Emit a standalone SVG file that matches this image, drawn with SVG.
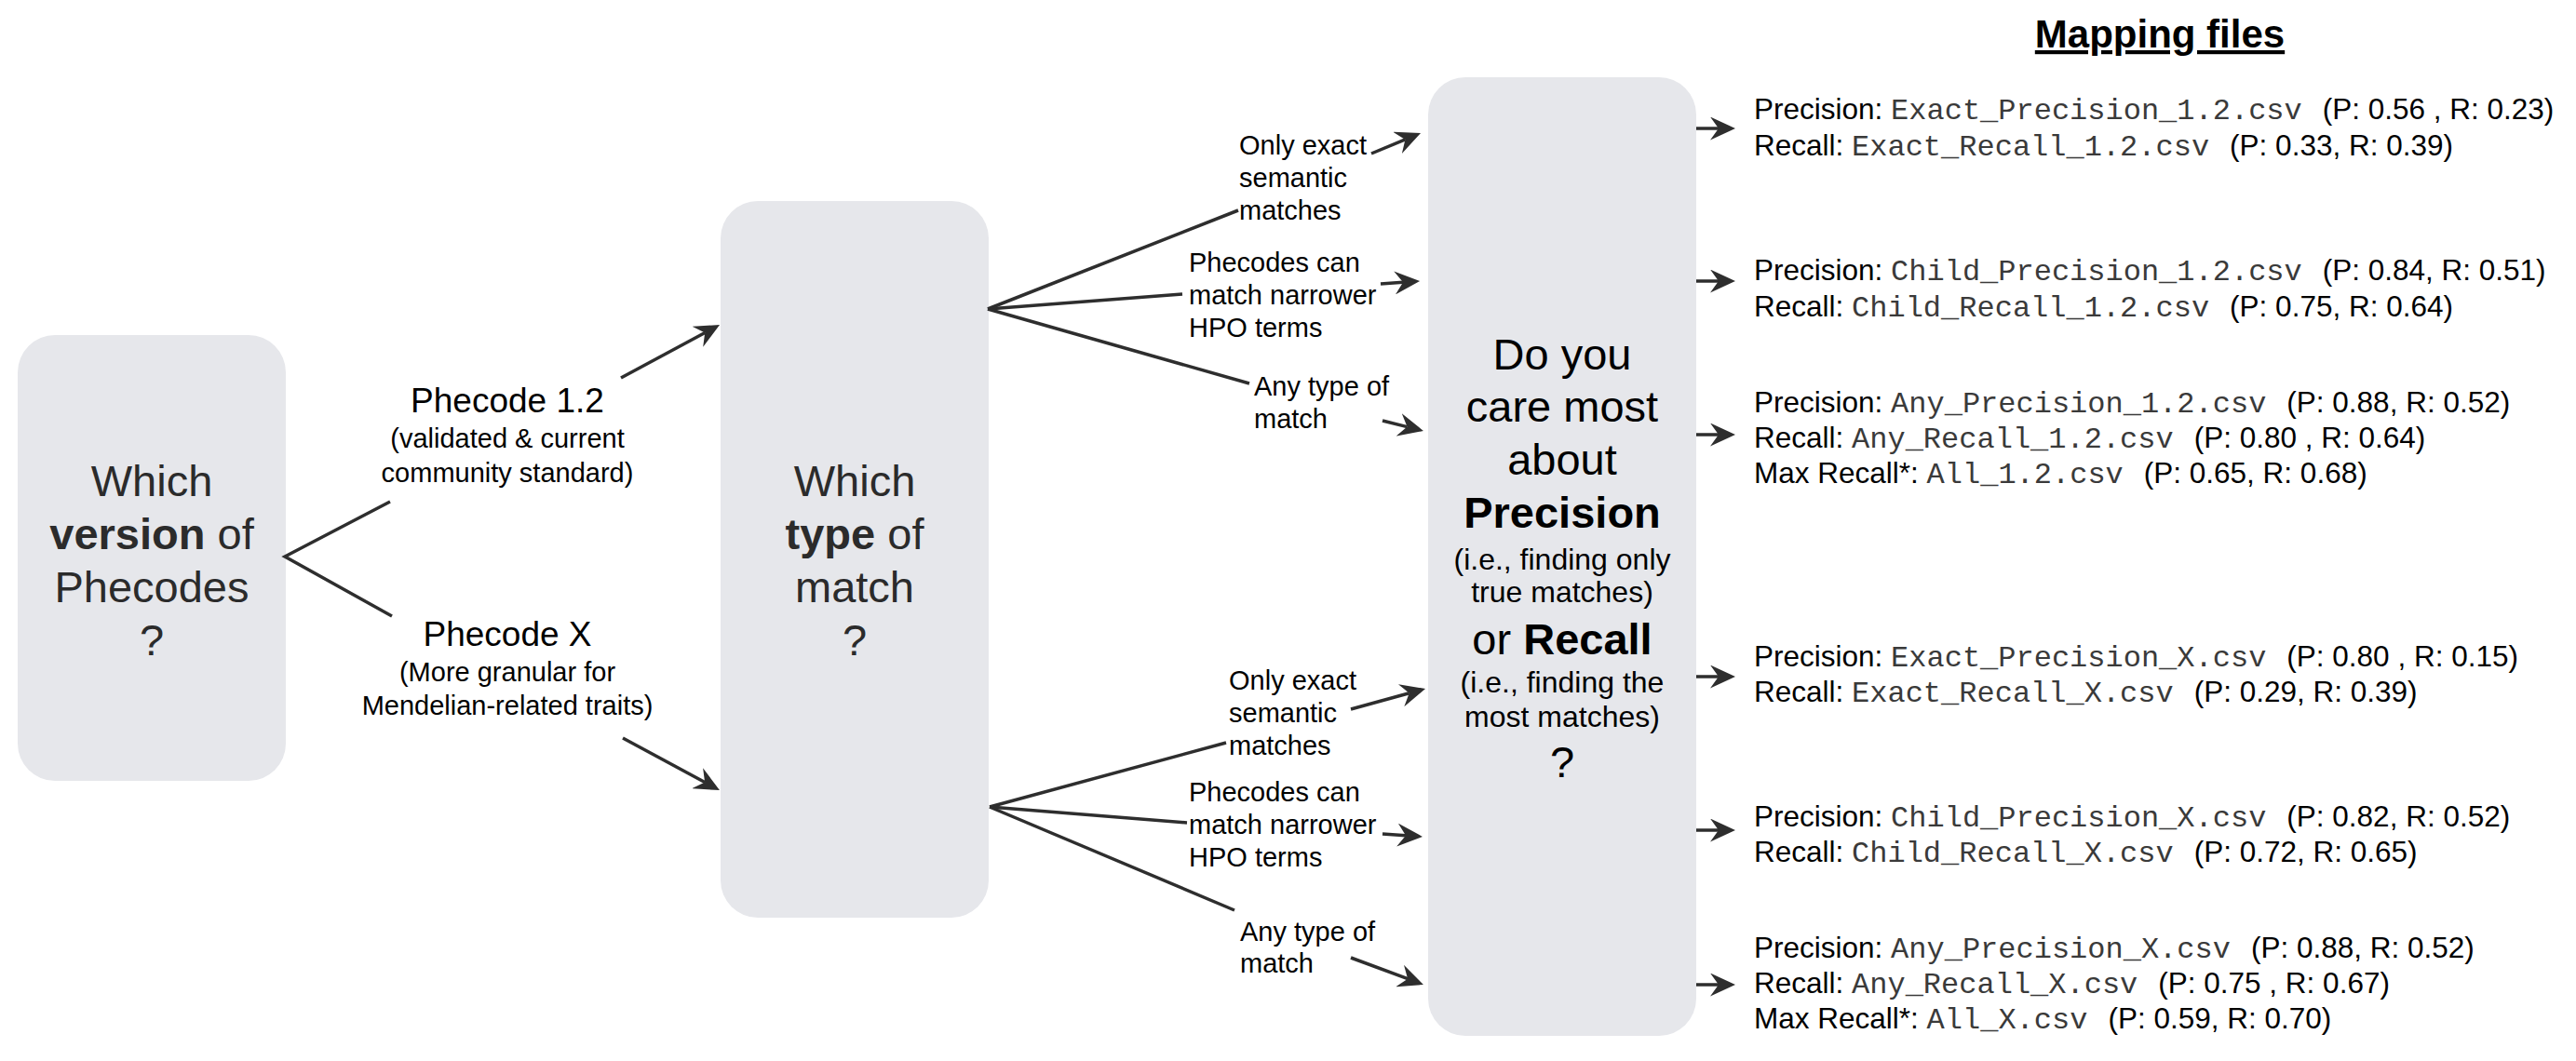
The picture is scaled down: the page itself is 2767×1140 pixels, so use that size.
<svg xmlns="http://www.w3.org/2000/svg" width="2767" height="1140" viewBox="0 0 2767 1140">
<style>
.box{fill:#e6e7eb;}
.q{font-family:"Liberation Sans",Arial,sans-serif;font-size:47px;text-anchor:middle;fill:#2b2b2b;}
.q3{font-family:"Liberation Sans",Arial,sans-serif;font-size:47px;text-anchor:middle;fill:#000;}
.qs{font-family:"Liberation Sans",Arial,sans-serif;font-size:32px;text-anchor:middle;fill:#000;}
.b{font-weight:bold;}
.ph{font-family:"Liberation Sans",Arial,sans-serif;font-size:37px;text-anchor:middle;fill:#000;}
.phs{font-family:"Liberation Sans",Arial,sans-serif;font-size:29px;text-anchor:middle;fill:#000;}
.lab{font-family:"Liberation Sans",Arial,sans-serif;font-size:29px;fill:#000;}
.rt{font-family:"Liberation Sans",Arial,sans-serif;font-size:31.5px;fill:#000;}
.mono{font-family:"Liberation Mono","Courier New",monospace;font-size:32px;fill:#3a3a3a;}
.title{font-family:"Liberation Sans",Arial,sans-serif;font-size:42px;font-weight:bold;text-anchor:middle;fill:#000;text-decoration:underline;}
.ln{fill:none;stroke:#2e2e2e;stroke-width:3.5;}
.ar{fill:none;stroke:#2e2e2e;stroke-width:3.5;marker-end:url(#ah);}
</style>
<defs>
<marker id="ah" markerUnits="userSpaceOnUse" viewBox="0 0 27 25" refX="9" refY="12.5" markerWidth="27" markerHeight="25" orient="auto">
<path d="M0,0 L27,12.5 L0,25 L9,12.5 Z" fill="#2e2e2e"/>
</marker>
</defs>
<rect width="2767" height="1140" fill="#fff"/>

<g id="node-version">
<rect class="box" x="19" y="360" width="288" height="479" rx="40"/>
<text class="q" x="163" y="533">Which</text>
<text class="q" x="163" y="590"><tspan class="b">version</tspan> of</text>
<text class="q" x="163" y="647">Phecodes</text>
<text class="q" x="163" y="704">?</text>
</g>

<g id="node-phecode12">
<text class="ph" x="545" y="443">Phecode 1.2</text>
<text class="phs" x="545" y="481">(validated &amp; current</text>
<text class="phs" x="545" y="518">community standard)</text>
</g>

<g id="node-phecodeX">
<text class="ph" x="545" y="694">Phecode X</text>
<text class="phs" x="545" y="732">(More granular for</text>
<text class="phs" x="545" y="768">Mendelian-related traits)</text>
</g>

<g id="node-type">
<rect class="box" x="774" y="216" width="288" height="770" rx="40"/>
<text class="q" x="918" y="533">Which</text>
<text class="q" x="918" y="590"><tspan class="b">type</tspan> of</text>
<text class="q" x="918" y="647">match</text>
<text class="q" x="918" y="704">?</text>
</g>

<g id="labels-12">
<text class="lab" x="1331" y="166">Only exact</text>
<text class="lab" x="1331" y="201">semantic</text>
<text class="lab" x="1331" y="236">matches</text>
<text class="lab" x="1277" y="292">Phecodes can</text>
<text class="lab" x="1277" y="327">match narrower</text>
<text class="lab" x="1277" y="362">HPO terms</text>
<text class="lab" x="1347" y="425">Any type of</text>
<text class="lab" x="1347" y="460">match</text>
</g>

<g id="labels-X">
<text class="lab" x="1320" y="741">Only exact</text>
<text class="lab" x="1320" y="776">semantic</text>
<text class="lab" x="1320" y="811">matches</text>
<text class="lab" x="1277" y="861">Phecodes can</text>
<text class="lab" x="1277" y="896">match narrower</text>
<text class="lab" x="1277" y="931">HPO terms</text>
<text class="lab" x="1332" y="1011">Any type of</text>
<text class="lab" x="1332" y="1045">match</text>
</g>

<g id="node-precision-recall">
<rect class="box" x="1534" y="83" width="288" height="1030" rx="40"/>
<text class="q3" x="1678" y="397">Do you</text>
<text class="q3" x="1678" y="453">care most</text>
<text class="q3" x="1678" y="510">about</text>
<text class="q3 b" x="1678" y="567">Precision</text>
<text class="qs" x="1678" y="612">(i.e., finding only</text>
<text class="qs" x="1678" y="647">true matches)</text>
<text class="q3" x="1678" y="703">or <tspan class="b">Recall</tspan></text>
<text class="qs" x="1678" y="744">(i.e., finding the</text>
<text class="qs" x="1678" y="781">most matches)</text>
<text class="q3" x="1678" y="835">?</text>
</g>

<g id="node-title">
<text class="title" x="2320" y="51">Mapping files</text>
</g>

<g id="node-files-exact-12">
<text class="rt" x="1884" y="128">Precision: <tspan class="mono">Exact_Precision_1.2.csv</tspan><tspan dx="22">(P: 0.56 , R: 0.23)</tspan></text>
<text class="rt" x="1884" y="167">Recall: <tspan class="mono">Exact_Recall_1.2.csv</tspan><tspan dx="22">(P: 0.33, R: 0.39)</tspan></text>
</g>
<g id="node-files-child-12">
<text class="rt" x="1884" y="301">Precision: <tspan class="mono">Child_Precision_1.2.csv</tspan><tspan dx="22">(P: 0.84, R: 0.51)</tspan></text>
<text class="rt" x="1884" y="340">Recall: <tspan class="mono">Child_Recall_1.2.csv</tspan><tspan dx="22">(P: 0.75, R: 0.64)</tspan></text>
</g>
<g id="node-files-any-12">
<text class="rt" x="1884" y="443">Precision: <tspan class="mono">Any_Precision_1.2.csv</tspan><tspan dx="22">(P: 0.88, R: 0.52)</tspan></text>
<text class="rt" x="1884" y="481">Recall: <tspan class="mono">Any_Recall_1.2.csv</tspan><tspan dx="22">(P: 0.80 , R: 0.64)</tspan></text>
<text class="rt" x="1884" y="519">Max Recall*: <tspan class="mono">All_1.2.csv</tspan><tspan dx="22">(P: 0.65, R: 0.68)</tspan></text>
</g>
<g id="node-files-exact-X">
<text class="rt" x="1884" y="716">Precision: <tspan class="mono">Exact_Precision_X.csv</tspan><tspan dx="22">(P: 0.80 , R: 0.15)</tspan></text>
<text class="rt" x="1884" y="754">Recall: <tspan class="mono">Exact_Recall_X.csv</tspan><tspan dx="22">(P: 0.29, R: 0.39)</tspan></text>
</g>
<g id="node-files-child-X">
<text class="rt" x="1884" y="888">Precision: <tspan class="mono">Child_Precision_X.csv</tspan><tspan dx="22">(P: 0.82, R: 0.52)</tspan></text>
<text class="rt" x="1884" y="926">Recall: <tspan class="mono">Child_Recall_X.csv</tspan><tspan dx="22">(P: 0.72, R: 0.65)</tspan></text>
</g>
<g id="node-files-any-X">
<text class="rt" x="1884" y="1029">Precision: <tspan class="mono">Any_Precision_X.csv</tspan><tspan dx="22">(P: 0.88, R: 0.52)</tspan></text>
<text class="rt" x="1884" y="1067">Recall: <tspan class="mono">Any_Recall_X.csv</tspan><tspan dx="22">(P: 0.75 , R: 0.67)</tspan></text>
<text class="rt" x="1884" y="1105">Max Recall*: <tspan class="mono">All_X.csv</tspan><tspan dx="22">(P: 0.59, R: 0.70)</tspan></text>
</g>

<g id="connectors">
<polyline class="ln" points="419,539 306,598 421,662"/>
<line class="ar" x1="667" y1="406" x2="757.2" y2="357.5"/>
<line class="ar" x1="669" y1="793" x2="757.1" y2="840.5"/>

<line class="ln" x1="1061" y1="332" x2="1330" y2="226"/>
<line class="ln" x1="1061" y1="332" x2="1270" y2="316"/>
<line class="ln" x1="1061" y1="332" x2="1342" y2="412"/>
<line class="ln" x1="1063" y1="867" x2="1317" y2="798"/>
<line class="ln" x1="1063" y1="867" x2="1275" y2="884"/>
<line class="ln" x1="1063" y1="867" x2="1326" y2="978"/>

<line class="ar" x1="1473" y1="165" x2="1509.4" y2="149.9"/>
<line class="ar" x1="1483" y1="305" x2="1507.1" y2="303.3"/>
<line class="ar" x1="1485" y1="452" x2="1511.5" y2="458.6"/>
<line class="ar" x1="1451" y1="762" x2="1513.7" y2="744.8"/>
<line class="ar" x1="1485" y1="896" x2="1510" y2="897.7"/>
<line class="ar" x1="1451" y1="1029" x2="1512.1" y2="1051.7"/>

<line class="ar" x1="1822" y1="138" x2="1846" y2="138"/>
<line class="ar" x1="1822" y1="302" x2="1846" y2="302"/>
<line class="ar" x1="1822" y1="467" x2="1846" y2="467"/>
<line class="ar" x1="1822" y1="727" x2="1846" y2="727"/>
<line class="ar" x1="1822" y1="892" x2="1846" y2="892"/>
<line class="ar" x1="1822" y1="1058" x2="1846" y2="1058"/>
</g>
</svg>
